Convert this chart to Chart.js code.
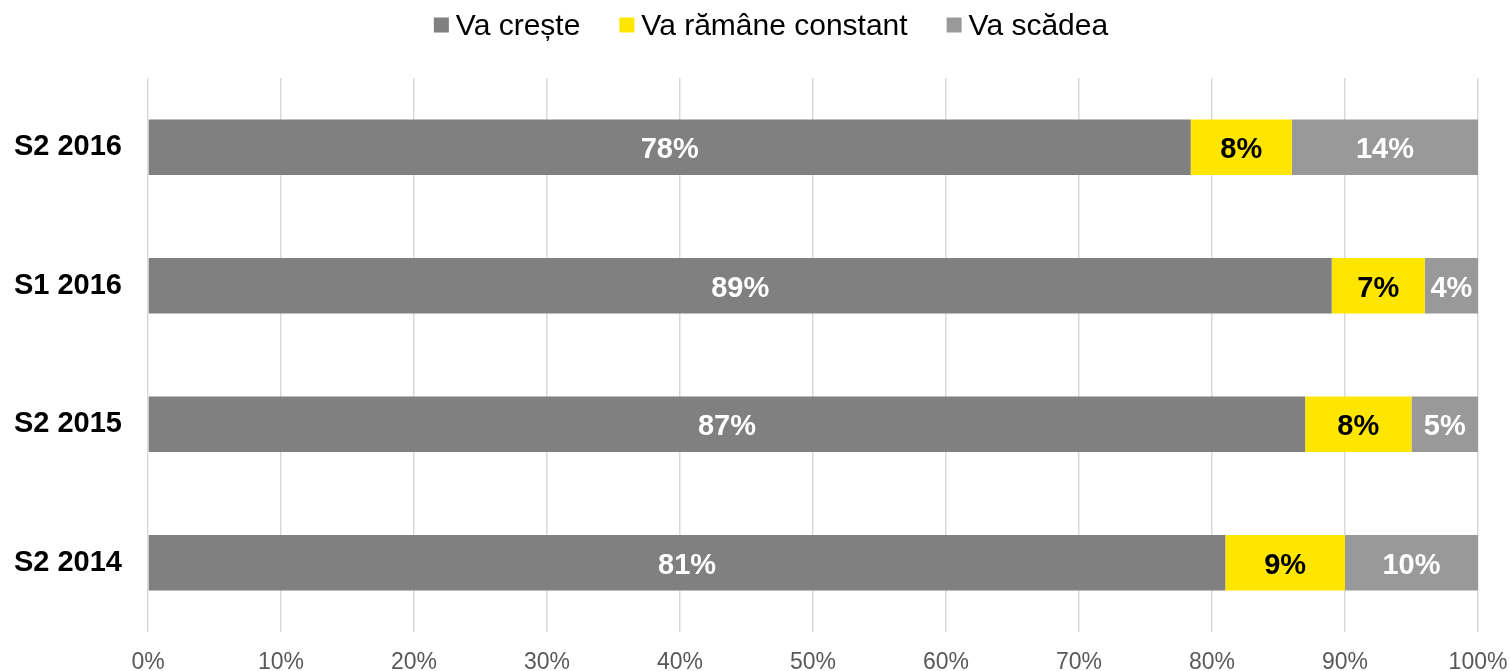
<!DOCTYPE html>
<html>
<head>
<meta charset="utf-8">
<script src="https://cdn.jsdelivr.net/npm/chart.js@4"></script>
<style>
  html, body { margin: 0; padding: 0; background: #fff; }
  #wrap { width: 1510px; height: 671px; }
</style>
</head>
<body>
<div id="wrap"><canvas id="grafic"></canvas></div>
<script>
const categorii = ["S2 2016", "S1 2016", "S2 2015", "S2 2014"];
const vaCreste = [78.4, 89, 87, 81];
const vaRamaneConstant = [7.6, 7, 8, 9];
const vaScadea = [14, 4, 5, 10];
const tickuriX = [0, 10, 20, 30, 40, 50, 60, 70, 80, 90, 100];

const FONT = "'Liberation Sans', Arial, sans-serif";

// eticheta in mijlocul fiecarui segment
const eticheteBare = {
  id: "eticheteBare",
  afterDatasetsDraw(chart) {
    const ctx = chart.ctx;
    ctx.save();
    ctx.font = "bold 29px " + FONT;
    ctx.textAlign = "center";
    ctx.textBaseline = "middle";
    chart.data.datasets.forEach((ds, i) => {
      const meta = chart.getDatasetMeta(i);
      meta.data.forEach((bar, j) => {
        const x = (bar.x + bar.base) / 2;
        ctx.fillStyle = ds.labelColor;
        ctx.fillText(Math.round(ds.data[j]) + "%", x, bar.y + 3);
      });
    });
    ctx.restore();
  }
};

// legenda sus, patrat mic lipit de text (ca in Excel)
const legendaSus = {
  id: "legendaSus",
  afterDraw(chart) {
    const ctx = chart.ctx;
    const box = 15, gap = 7, spatiu = 39, y = 25;
    ctx.save();
    ctx.font = "30px " + FONT;
    ctx.textBaseline = "middle";
    const latimi = chart.data.datasets.map(ds => ctx.measureText(ds.label).width);
    const total = latimi.reduce((s, w) => s + box + gap + w, 0) + spatiu * (latimi.length - 1);
    let x = 771 - total / 2;
    chart.data.datasets.forEach((ds, i) => {
      ctx.fillStyle = ds.backgroundColor;
      ctx.fillRect(x, y - box / 2, box, box);
      x += box + gap;
      ctx.fillStyle = "#000000";
      ctx.fillText(ds.label, x, y + 2);
      x += latimi[i] + spatiu;
    });
    ctx.restore();
  }
};

function faraPadding(scale) {
  scale.paddingLeft = 0;
  scale.paddingRight = 0;
}

new Chart(document.getElementById("grafic"), {
  type: "bar",
  data: {
    labels: categorii,
    datasets: [
      { label: "Va crește", data: vaCreste, backgroundColor: "#808080", labelColor: "#ffffff" },
      { label: "Va rămâne constant", data: vaRamaneConstant, backgroundColor: "#ffe600", labelColor: "#000000" },
      { label: "Va scădea", data: vaScadea, backgroundColor: "#999999", labelColor: "#ffffff" }
    ]
  },
  options: {
    indexAxis: "y",
    responsive: true,
    maintainAspectRatio: false,
    animation: false,
    layout: { padding: { top: 78, right: 32, left: 0, bottom: 0 } },
    datasets: { bar: { barPercentage: 0.8, categoryPercentage: 0.5, borderWidth: 0 } },
    plugins: {
      tooltip: { enabled: false },
      legend: { display: false }
    },
    scales: {
      x: {
        stacked: true,
        min: 0,
        max: 100,
        afterBuildTicks(scale) { scale.ticks = tickuriX.map(v => ({ value: v })); },
        afterFit(scale) { scale.height = 39; faraPadding(scale); },
        ticks: {
          color: "#595959",
          padding: 17,
          font: { family: FONT, size: 23 },
          callback: v => v + "%"
        },
        grid: { color: "#d9d9d9", lineWidth: 1.5, drawTicks: false },
        border: { display: false }
      },
      y: {
        stacked: true,
        afterFit(scale) { scale.width = 148; },
        ticks: {
          color: "#000000",
          padding: 18,
          font: { family: FONT, size: 29, weight: "bold" }
        },
        grid: { display: false },
        border: { display: false }
      }
    }
  },
  plugins: [eticheteBare, legendaSus]
});
</script>
</body>
</html>
